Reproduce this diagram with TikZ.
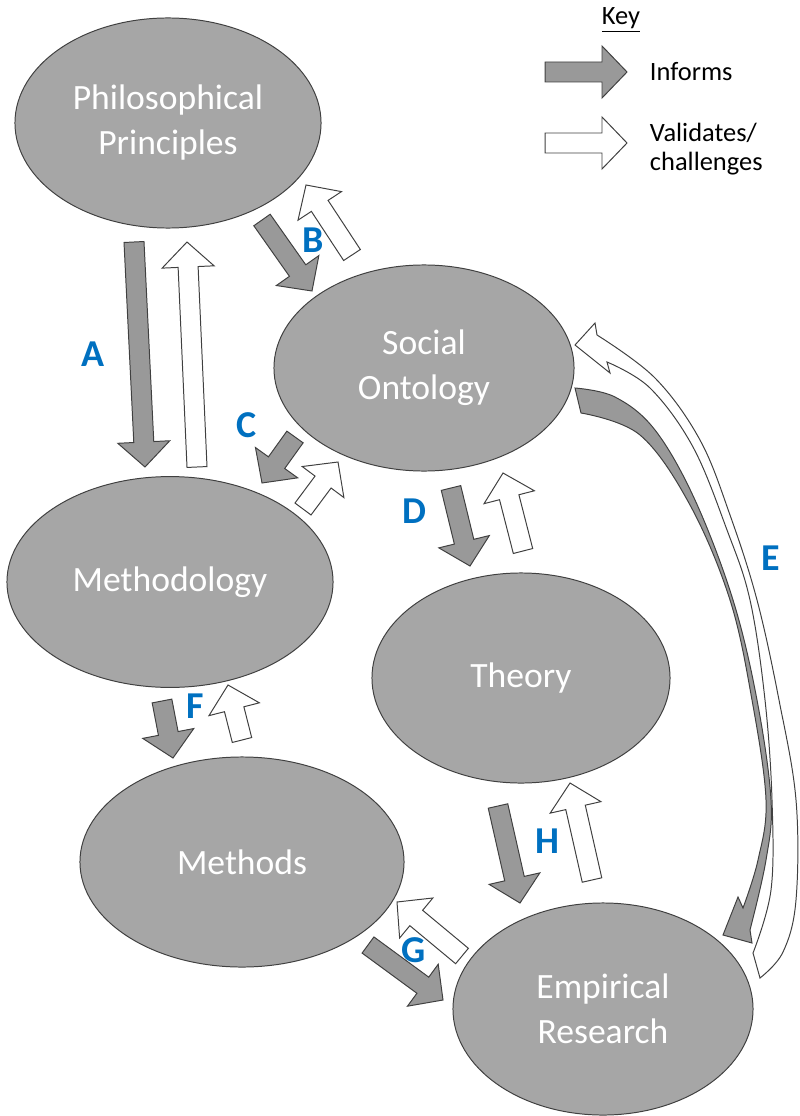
\documentclass[tikz,border=0pt]{standalone}
\usepackage{fontspec}
\setmainfont{Carlito}
\usetikzlibrary{shapes.geometric, calc}
\definecolor{ellgray}{HTML}{A6A6A6}
\definecolor{arrgray}{HTML}{999999}
\definecolor{edgegray}{HTML}{404040}
\definecolor{lblblue}{HTML}{0070C0}

% block arrow from tail (#2) to tip (#3), style #1
\newcommand{\blockarrow}[3]{%
  \coordinate (ba) at ($(#3)!0.625cm!(#2)$);
  \filldraw[#1] ($(#2)!0.25cm!90:(#3)$) -- ($(ba)!0.25cm!90:(#3)$)
    -- ($(ba)!0.65cm!90:(#3)$) -- (#3) -- ($(ba)!0.65cm!-90:(#3)$)
    -- ($(ba)!0.25cm!-90:(#3)$) -- ($(#2)!0.25cm!-90:(#3)$) -- cycle;
}

\begin{document}
\begin{tikzpicture}[x=0.025cm, y=-0.025cm,
  ell/.style={ellipse, draw=edgegray, fill=ellgray, line width=0.7pt, text=white,
    align=center, inner sep=0pt, font=\fontsize{25.3}{32}\selectfont},
  informs/.style={draw=edgegray, fill=arrgray, line width=0.7pt},
  validates/.style={draw=edgegray, fill=white, line width=0.7pt},
  lbl/.style={text=lblblue, font=\fontsize{27}{27}\selectfont\bfseries},
  keytxt/.style={anchor=west, align=left, font=\fontsize{18.8}{21}\selectfont}]

\useasboundingbox (0,0) rectangle (800,1116);

% ============================================================
% Ellipses
% ============================================================
\node[ell, minimum width=7.65cm, minimum height=5.25cm] (philo) at (168,123) {Philosophical\\Principles};
\node[ell, minimum width=7.5cm, minimum height=5.15cm] (onto) at (424,368) {Social\\Ontology};
\node[ell, minimum width=8.15cm, minimum height=5.27cm] (methy) at (170,582) {Methodology};
\node[ell, minimum width=7.45cm, minimum height=5.25cm] (theory) at (521,678) {Theory};
\node[ell, minimum width=8.1cm, minimum height=5.25cm] (methods) at (242,862) {Methods};
\node[ell, minimum width=7.5cm, minimum height=5.3cm] (empir) at (603,1009) {Empirical\\Research};

% ============================================================
% Straight block arrows (tail -> tip)
% ============================================================
\foreach \nm/\st/\sx/\sy/\tx/\ty in {
    Ainf/informs/134/242/145/467, Aval/validates/197/467/187/242,
    Binf/informs/262/220/312/291, Bval/validates/352/255/306/185,
    Cinf/informs/295/437/262/483, Cval/validates/303/509/338/462,
    Dinf/informs/451/488/470/566, Dval/validates/523/551/503/473,
    Finf/informs/162/701/173/758, Fval/validates/242/740/228/685,
    Hinf/informs/498/806/520/903, Hval/validates/592/880/570/783,
    Ginf/informs/368/945/443/1000, Gval/validates/462/956/397/902,
    keyinf/informs/545/72/627/72, keyval/validates/545/143/627/143} {
  \coordinate (\nm-tail) at (\sx,\sy);
  \coordinate (\nm-tip) at (\tx,\ty);
  \blockarrow{\st}{\nm-tail}{\nm-tip}
}

% ============================================================
% Curved arrows E (Social Ontology <-> Empirical Research)
% ============================================================
\filldraw[informs] plot[smooth, tension=0.6] coordinates {(575,388) (615,397) (655,430)
    (695,500) (733,600) (757,700) (771,800) (766,860) (750,930)}
  -- (752,943) -- (723,935) -- (738,897)
  -- plot[smooth, tension=0.6] coordinates {(743,908) (758,860) (766,800) (752,700)
    (730,600) (690,505) (640,435) (581,413)} -- cycle;

\filldraw[validates] plot[smooth, tension=0.6] coordinates {(760,978) (783,952) (796,900)
    (796,800) (779,700) (757,600) (730,515) (700,440) (655,378) (597,335)}
  -- (595,323) -- (575,345) -- (610,373)
  -- plot[smooth, tension=0.6] coordinates {(607,362) (650,388) (693,447) (727,530)
    (750,600) (765,700) (772,800) (771,890) (753,953)} -- cycle;

% ============================================================
% Letters
% ============================================================
\node[lbl] (labA) at (93,354) {A};
\node[lbl] (labB) at (313,240) {B};
\node[lbl] (labC) at (247,425) {C};
\node[lbl] (labD) at (414,511) {D};
\node[lbl] (labE) at (771,558) {E};
\node[lbl] (labF) at (195,706) {F};
\node[lbl] (labG) at (414,950) {G};
\node[lbl] (labH) at (547,841) {H};

% ============================================================
% Key
% ============================================================
\node[font=\fontsize{18.8}{21}\selectfont] (keyhd) at (621,20) {\underline{Key}};
\node[keytxt] (keyinftxt) at (645,72) {Informs};
\node[keytxt] (keyvaltxt) at (645,149) {Validates/\\challenges};

\end{tikzpicture}
\end{document}
